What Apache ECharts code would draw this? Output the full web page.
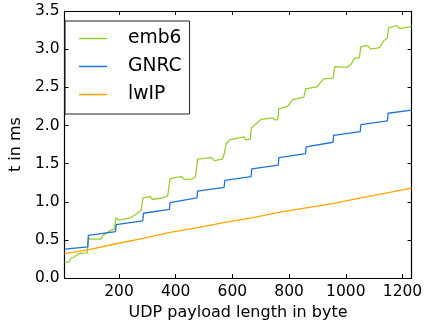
<!DOCTYPE html>
<html>
<head>
<meta charset="utf-8">
<script src="https://cdn.jsdelivr.net/npm/echarts@6/dist/echarts.min.js"></script>
<style>
html,body{margin:0;padding:0;background:#fff;}
#chart{width:425px;height:326px;}
</style>
</head>
<body>
<div id="chart"></div>
<script>
var seriesNames = ['emb6', 'GNRC', 'lwIP'];
var xTicks = [200, 400, 600, 800, 1000, 1200];

var emb6 = [[8,0.21],[24,0.21],[30,0.26],[44,0.28],[56,0.32],[88,0.33],[92,0.52],[100,0.51],[136,0.51],[144,0.56],[160,0.60],[172,0.63],[184,0.64],[189,0.79],[200,0.76],[240,0.79],[262,0.84],[278,0.89],[285,1.05],[310,1.07],[318,1.03],[355,1.05],[372,1.08],[380,1.30],[400,1.32],[420,1.33],[432,1.29],[460,1.30],[470,1.33],[477,1.56],[500,1.57],[526,1.58],[536,1.54],[565,1.56],[572,1.64],[578,1.76],[590,1.81],[640,1.85],[648,1.81],[663,1.82],[667,1.97],[680,2.01],[702,2.08],[742,2.10],[750,2.07],[760,2.08],[764,2.22],[795,2.25],[812,2.34],[852,2.37],[859,2.48],[900,2.51],[912,2.57],[922,2.61],[955,2.62],[961,2.77],[1005,2.76],[1020,2.81],[1030,2.88],[1048,2.89],[1053,3.03],[1076,3.05],[1088,3.00],[1120,3.02],[1133,3.11],[1146,3.14],[1151,3.28],[1179,3.31],[1191,3.27],[1232,3.30]];

var gnrc = [[8,0.38],[90,0.41],[92,0.56],[188,0.61],[190,0.70],[284,0.75],[286,0.85],[378,0.90],[380,0.99],[475,1.05],[477,1.14],[571,1.19],[573,1.28],[666,1.33],[668,1.43],[762,1.48],[764,1.58],[858,1.63],[860,1.72],[955,1.78],[957,1.87],[1051,1.92],[1053,2.01],[1147,2.06],[1149,2.16],[1232,2.20]];

var lwip = [[8,0.32],[90,0.37],[190,0.45],[285,0.52],[380,0.60],[478,0.66],[574,0.73],[668,0.79],[764,0.86],[860,0.92],[958,0.98],[1053,1.05],[1150,1.12],[1232,1.18]];

var colors = ['#9acd32', '#1f74d4', '#ffa500'];
var FONT = 'DejaVu Sans';

var chart = echarts.init(document.getElementById('chart'), null, {renderer: 'canvas'});

function xAx(pos, showLabel) {
  return {
    type: 'value', position: pos, min: 8, max: 1232,
    axisLine: {show: true, onZero: false, lineStyle: {color: '#000', width: 1.2}},
    axisTick: {show: true, inside: true, length: 4, customValues: xTicks, lineStyle: {color: '#000', width: 1}},
    axisLabel: {show: showLabel, customValues: xTicks, fontFamily: FONT, fontSize: 15.5, color: '#000', margin: 6,
      formatter: function (v) { return String(v); }},
    splitLine: {show: false},
    name: showLabel ? 'UDP payload length in byte' : '',
    nameLocation: 'middle', nameGap: 24,
    nameTextStyle: {fontFamily: FONT, fontSize: 16, color: '#000'}
  };
}
function yAx(pos, showLabel) {
  return {
    type: 'value', position: pos, min: 0, max: 3.5, interval: 0.5,
    axisLine: {show: true, onZero: false, lineStyle: {color: '#000', width: 1.2}},
    axisTick: {show: true, inside: true, length: 4, lineStyle: {color: '#000', width: 1}},
    axisLabel: {show: showLabel, fontFamily: FONT, fontSize: 15.5, color: '#000', margin: 5,
      formatter: function (v) { return v.toFixed(1); }},
    splitLine: {show: false},
    name: showLabel ? 't in ms' : '',
    nameLocation: 'middle', nameGap: 33, nameRotate: 90,
    nameTextStyle: {fontFamily: FONT, fontSize: 16, color: '#000'}
  };
}

function mk(name, data, color) {
  return {
    name: name, type: 'line', data: data, xAxisIndex: 0, yAxisIndex: 0,
    symbol: 'none', color: color, animation: false,
    lineStyle: {color: color, width: 1.3}
  };
}

chart.setOption({
  animation: false,
  grid: {left: 56, right: 13, top: 11, bottom: 39, containLabel: false},
  xAxis: [xAx('bottom', true), xAx('top', false)],
  yAxis: [yAx('left', true), yAx('right', false)],
  legend: {
    left: 65, top: 21, orient: 'vertical',
    padding: [8, 8, 10, 14], itemGap: 9, itemWidth: 28, itemHeight: 20,
    icon: 'path://M0,0H28V1.5H0Z', symbolKeepAspect: true,
    borderColor: '#222', borderWidth: 1, borderRadius: 0,
    textStyle: {fontFamily: FONT, fontSize: 18.7, color: '#000', padding: [0, 0, 0, 16]},
    data: seriesNames
  },
  series: [mk(seriesNames[0], emb6, colors[0]), mk(seriesNames[1], gnrc, colors[1]), mk(seriesNames[2], lwip, colors[2])]
});
</script>
</body>
</html>
